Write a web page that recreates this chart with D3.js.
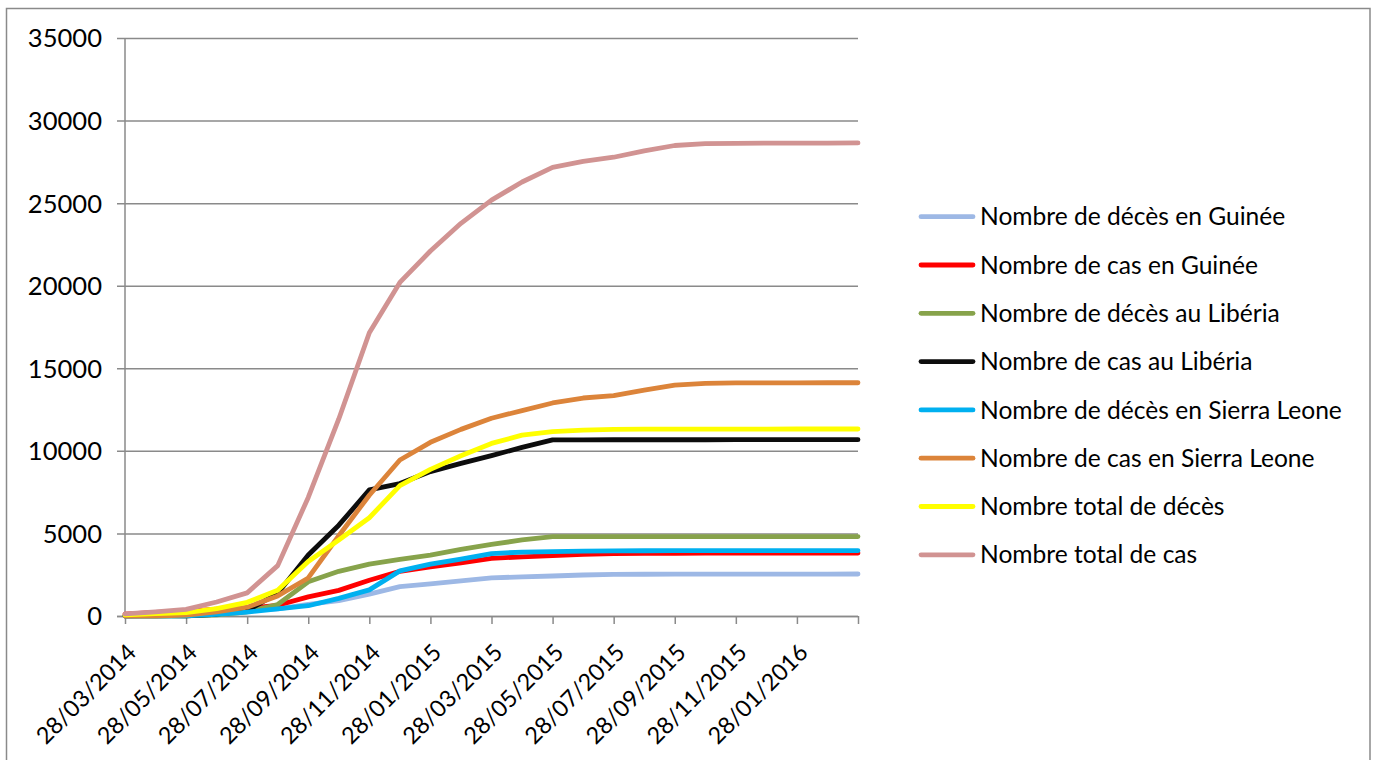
<!DOCTYPE html>
<html><head><meta charset="utf-8">
<script src="https://cdn.jsdelivr.net/npm/d3@7"></script>
<style>html,body{margin:0;padding:0;background:#fff;} svg{display:block;}</style>
</head><body>
<svg id="chart" width="1377" height="760"></svg>
<script>
// ---- Data ----
const dates = ["28/03/2014","28/04/2014","28/05/2014","28/06/2014","28/07/2014","28/08/2014","28/09/2014","28/10/2014","28/11/2014","28/12/2014",
  "28/01/2015","28/02/2015","28/03/2015","28/04/2015","28/05/2015","28/06/2015","28/07/2015","28/08/2015","28/09/2015","28/10/2015",
  "28/11/2015","28/12/2015","28/01/2016","28/02/2016","28/03/2016"];
const tickLabels = ["28/03/2014","28/05/2014","28/07/2014","28/09/2014","28/11/2014","28/01/2015","28/03/2015","28/05/2015","28/07/2015","28/09/2015","28/11/2015","28/01/2016"];
const yTicks = [0,5000,10000,15000,20000,25000,30000,35000];

const seriesNames = ["Nombre de décès en Guinée","Nombre de cas en Guinée","Nombre de décès au Libéria","Nombre de cas au Libéria",
  "Nombre de décès en Sierra Leone","Nombre de cas en Sierra Leone","Nombre total de décès","Nombre total de cas"];
const seriesColors = ["#9db8e5","#ff0000","#87a34b","#0d0d0d","#00b0f0","#dc843a","#ffff00","#d19392"];

const guineaDeaths = [70,143,186,280,339,430,710,926,1327,1781,1944,2129,2314,2370,2421,2482,2524,2529,2534,2536,2536,2536,2536,2536,2543];
const guineaCases  = [112,221,281,413,460,648,1157,1553,2164,2707,2975,3219,3492,3584,3652,3729,3786,3792,3800,3806,3806,3806,3804,3804,3811];
const liberiaDeaths = [0,0,11,65,255,694,2069,2705,3145,3423,3686,4037,4332,4608,4806,4806,4806,4808,4808,4808,4809,4809,4809,4809,4809];
const liberiaCases  = [8,35,13,107,329,1378,3696,5500,7635,8018,8745,9238,9712,10212,10666,10666,10672,10672,10672,10672,10675,10675,10675,10675,10675];
const slDeaths = [0,0,6,99,233,430,623,1070,1583,2732,3145,3450,3780,3870,3900,3929,3949,3951,3953,3955,3955,3955,3955,3956,3956];
const slCases  = [0,0,50,252,533,1216,2304,4860,7312,9446,10518,11301,11974,12440,12900,13200,13350,13683,13982,14089,14122,14122,14122,14124,14124];
const totalDeaths = [70,143,203,444,827,1554,3300,4600,5950,7900,8880,9700,10450,10950,11170,11260,11300,11310,11315,11315,11320,11320,11323,11323,11323];
const totalCases  = [130,250,400,850,1400,3050,7180,11930,17150,20200,22100,23780,25180,26280,27170,27530,27780,28170,28490,28600,28620,28630,28635,28640,28646];

const seriesValues = [guineaDeaths, guineaCases, liberiaDeaths, liberiaCases, slDeaths, slCases, totalDeaths, totalCases];

// ---- Chart ----
const svg = d3.select("#chart");
const FONT = "Lato, 'Open Sans', sans-serif";
const probe = svg.append("text").attr("font-family", FONT).attr("font-size", 100).text("Nombre de décès en Sierra Leone");
const pw = probe.node().getComputedTextLength();
probe.remove();
const FS = Math.min(27, 100 * 362 / pw);

const GRID = "#8a8a8a";
const X0 = 125, X1 = 858, Y0 = 616, Y1 = 38;

// border
svg.append("rect").attr("x", 6.5).attr("y", 8.5).attr("width", 1363.5).attr("height", 800)
  .attr("fill", "none").attr("stroke", GRID).attr("stroke-width", 1.5);

const x = d3.scalePoint().domain(dates).range([X0, X1]);
const y = d3.scaleLinear().domain([0, 35000]).range([Y0, Y1]);

// gridlines + y axis ticks
const gy = svg.append("g").attr("transform", `translate(${X0},0)`)
  .call(d3.axisLeft(y).tickValues(yTicks).tickFormat(d3.format("d"))
    .tickSizeInner(-(X1 - X0)).tickSizeOuter(0).tickPadding(23));
gy.select(".domain").remove();
gy.selectAll(".tick line").attr("x1", -8).attr("stroke", GRID).attr("stroke-width", 1.5);
gy.selectAll(".tick text").attr("font-family", FONT).attr("font-size", FS * 1.04).attr("fill", "#000").attr("dy", "0.35em").attr("x", -23);

// y axis line
svg.append("line").attr("x1", X0).attr("x2", X0).attr("y1", Y1).attr("y2", Y0).attr("stroke", GRID).attr("stroke-width", 1.5);

// x axis
const xTickVals = dates.filter((d, i) => i % 2 === 0);
const gx = svg.append("g").attr("transform", `translate(0,${Y0})`)
  .call(d3.axisBottom(x).tickValues(xTickVals).tickSize(8).tickFormat((d, i) => tickLabels[i] || ""));
gx.select(".domain").attr("d", `M${X0 - 8},0.5H${X1}`).attr("stroke", GRID).attr("stroke-width", 1.5);
gx.selectAll(".tick line").attr("stroke", GRID).attr("stroke-width", 1.5);
gx.selectAll(".tick text").attr("font-family", FONT).attr("font-size", FS * 0.95).attr("fill", "#000")
  .attr("x", 0).attr("y", 0).attr("dy", 0).attr("text-anchor", "end")
  .attr("transform", "translate(12,38) rotate(-45)");

// lines
const line = d3.line().x((d, i) => x(dates[i])).y(d => y(d));
const gl = svg.append("g");
seriesValues.forEach((vals, k) => {
  gl.append("path").datum(vals).attr("d", line).attr("fill", "none")
    .attr("stroke", seriesColors[k]).attr("stroke-width", 4.8)
    .attr("stroke-linejoin", "round").attr("stroke-linecap", "round");
});

// legend
const lg = svg.append("g");
seriesNames.forEach((name, k) => {
  const yy = 216.7 + k * 48.3;
  lg.append("line").attr("x1", 921).attr("x2", 973).attr("y1", yy).attr("y2", yy)
    .attr("stroke", seriesColors[k]).attr("stroke-width", 4.8).attr("stroke-linecap", "round");
  lg.append("text").attr("x", 980).attr("y", yy).attr("dy", "0.35em")
    .attr("font-family", FONT).attr("font-size", FS).attr("fill", "#000").text(name);
});
</script>
</body></html>
